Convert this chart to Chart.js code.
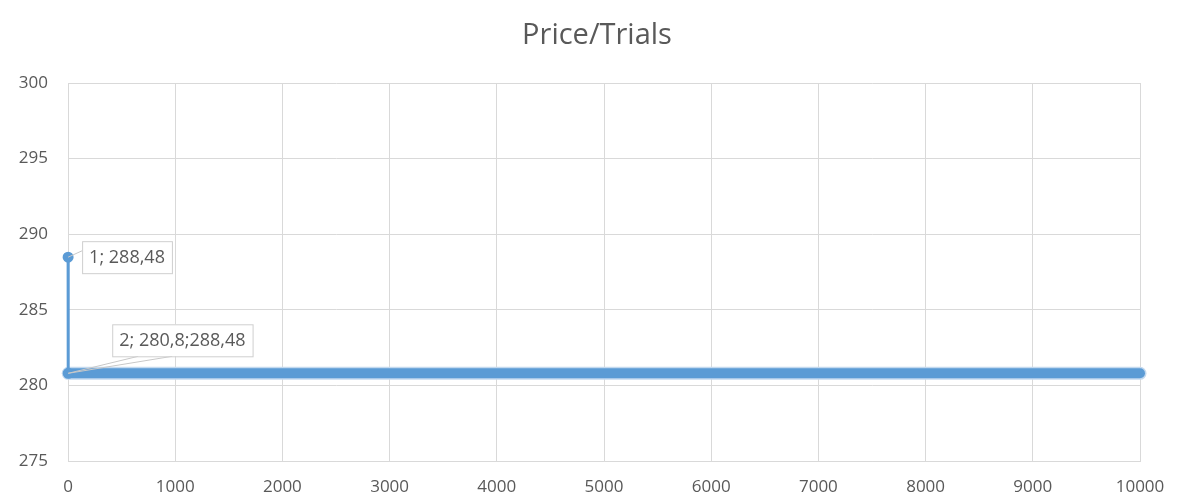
<!DOCTYPE html>
<html>
<head>
<meta charset="utf-8">
<title>Price/Trials</title>
<script src="https://cdn.jsdelivr.net/npm/chart.js@4/dist/chart.umd.min.js"></script>
<style>
  html, body { margin: 0; padding: 0; background: #ffffff; }
  #wrap { width: 1188px; height: 497px; position: relative; }
</style>
</head>
<body>
<div id="wrap"><canvas id="c" width="1188" height="497"></canvas></div>
<script>
// Trial number and simulated price (first trials, then the converged tail up to 10000)
const trials = [1, 2, 10000];
const prices = [288.48, 280.8, 280.8];

// Callout texts attached to the first two points
const calloutTexts = ['1; 288,48', '2; 280,8;288,48'];

// Axis ticks
const xTicks = [0, 1000, 2000, 3000, 4000, 5000, 6000, 7000, 8000, 9000, 10000];
const yTicks = [275, 280, 285, 290, 295, 300];

const chartTitle = 'Price/Trials';

const BLUE = '#5b9bd5';
const BLUE_EDGE = '#c3d9ef';
const TEXT = '#595959';
const GRID = '#d9d9d9';
const FONT = '"Open Sans", "Noto Sans", sans-serif';

const pts = trials.map((t, i) => ({ x: t, y: prices[i] }));

// Title centred on the whole canvas rather than the padded layout box
const centredTitle = {
  id: 'centredTitle',
  afterDraw(chart, args, opts) {
    const { ctx, width } = chart;
    ctx.save();
    ctx.font = opts.size + 'px ' + FONT;
    ctx.fillStyle = TEXT;
    ctx.textAlign = 'center';
    ctx.textBaseline = 'alphabetic';
    ctx.fillText(opts.text, width / 2 + opts.shift, opts.baseline);
    ctx.restore();
  }
};

// Boxed data labels with a thin leader line back to the point
const callouts = {
  id: 'callouts',
  afterDatasetsDraw(chart, args, opts) {
    const { ctx, scales: { x, y } } = chart;
    ctx.save();
    ctx.font = '18px ' + FONT;
    opts.items.forEach(item => {
      const p = pts[item.index];
      const px = x.getPixelForValue(p.x);
      const py = y.getPixelForValue(p.y);
      const text = calloutTexts[item.index];
      const w = ctx.measureText(text).width + 14;
      const h = 32;
      const bx = px + item.dx;
      const by = py + item.dy;
      // leader
      ctx.strokeStyle = '#c8c8c8';
      ctx.lineWidth = 1;
      ctx.beginPath();
      item.anchors.forEach(a => {
        ctx.moveTo(px, py);
        ctx.lineTo(bx + a[0], by + a[1] * h);
      });
      ctx.stroke();
      // box
      ctx.fillStyle = '#ffffff';
      ctx.fillRect(bx, by, w, h);
      ctx.strokeStyle = '#cfcfcf';
      ctx.strokeRect(bx + 0.5, by + 0.5, w, h);
      ctx.fillStyle = TEXT;
      ctx.textBaseline = 'middle';
      ctx.textAlign = 'left';
      ctx.fillText(text, bx + 7, by + h / 2 + 1);
    });
    ctx.restore();
  }
};

new Chart(document.getElementById('c'), {
  type: 'scatter',
  data: {
    datasets: [
      {
        // soft rim around the heavy band
        data: pts.slice(1),
        showLine: true,
        borderColor: BLUE_EDGE,
        borderWidth: 13,
        borderCapStyle: 'round',
        pointRadius: 0,
        clip: false,
        order: 3
      },
      {
        // the tail from trial 2 onward, drawn as a heavy band
        data: pts.slice(1),
        showLine: true,
        borderColor: BLUE,
        borderWidth: 10,
        borderCapStyle: 'round',
        pointRadius: 0,
        clip: false,
        order: 2
      },
      {
        // the drop from trial 1 to trial 2
        data: pts.slice(0, 2),
        showLine: true,
        borderColor: BLUE,
        borderWidth: 3,
        pointRadius: 4,
        pointBackgroundColor: BLUE,
        pointBorderColor: BLUE,
        clip: false,
        order: 1
      }
    ]
  },
  options: {
    responsive: false,
    animation: false,
    layout: { padding: { left: 0, right: 48, top: 83, bottom: 0 } },
    plugins: {
      legend: { display: false },
      tooltip: { enabled: false },
      title: { display: false },
      centredTitle: { text: chartTitle, size: 29, baseline: 44, shift: 3 },
      callouts: {
        items: [
          { index: 0, dx: 14, dy: -16, anchors: [[0, 0.3]] },
          { index: 1, dx: 44, dy: -49, anchors: [[26, 1], [60, 1]] }
        ]
      }
    },
    scales: {
      x: {
        type: 'linear',
        min: xTicks[0],
        max: xTicks[xTicks.length - 1],
        afterBuildTicks: s => { s.ticks = xTicks.map(v => ({ value: v })); },
        afterFit: s => { s.height = 36; },
        grid: { color: GRID, drawTicks: false },
        border: { color: GRID },
        ticks: {
          color: TEXT, font: { family: FONT, size: 17 }, padding: 16, maxRotation: 0,
          callback: v => String(v)
        }
      },
      y: {
        type: 'linear',
        min: yTicks[0],
        max: yTicks[yTicks.length - 1],
        afterBuildTicks: s => { s.ticks = yTicks.map(v => ({ value: v })); },
        afterFit: s => { s.width = 68; },
        grid: { color: GRID, drawTicks: false },
        border: { color: GRID },
        ticks: { color: TEXT, font: { family: FONT, size: 17 }, padding: 20, callback: v => String(v) }
      }
    }
  },
  plugins: [callouts, centredTitle]
});
</script>
</body>
</html>
